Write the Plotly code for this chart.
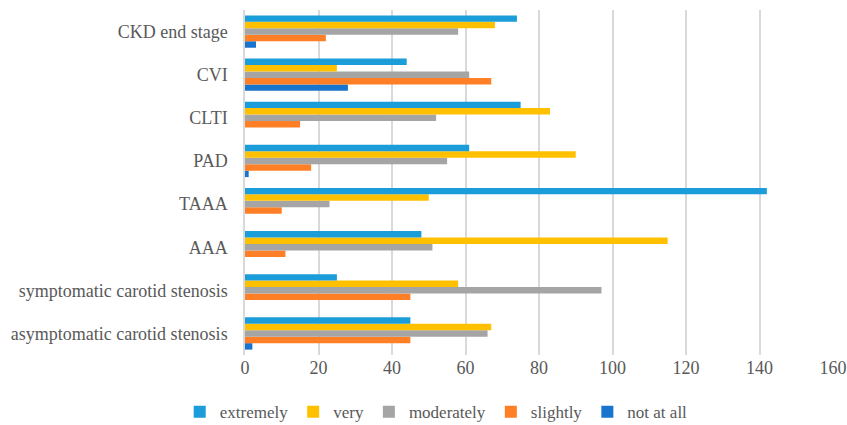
import plotly.graph_objects as go

categories = ["asymptomatic carotid stenosis", "symptomatic carotid stenosis", "AAA", "TAAA",
              "PAD", "CLTI", "CVI", "CKD end stage"]
extremely = [45, 25, 48, 142, 61, 75, 44, 74]
very = [67, 58, 115, 50, 90, 83, 25, 68]
moderately = [66, 97, 51, 23, 55, 52, 61, 58]
slightly = [45, 45, 11, 10, 18, 15, 67, 22]
not_at_all = [2, 0, 0, 0, 1, 0, 28, 3]
x_ticks = [0, 20, 40, 60, 80, 100, 120, 140, 160]

series = [
    ("not at all", not_at_all, "#1874CD", 5),
    ("slightly", slightly, "#FF7F27", 4),
    ("moderately", moderately, "#A5A5A5", 3),
    ("very", very, "#FFC000", 2),
    ("extremely", extremely, "#1B9DD9", 1),
]

FONT = "Liberation Serif, Times New Roman, serif"

fig = go.Figure()
for name, vals, color, rank in series:
    fig.add_trace(go.Bar(y=categories, x=vals, name=name, orientation="h",
                         marker=dict(color=color, line=dict(width=0)),
                         legendrank=rank))

fig.update_layout(
    width=847, height=425,
    margin=dict(l=245, r=14, t=10, b=70),
    barmode="group", bargap=0.25, bargroupgap=0.0,
    plot_bgcolor="white", paper_bgcolor="white",
    font=dict(family=FONT, size=18, color="#595959"),
    legend=dict(orientation="h", xref="container", yref="container",
                x=0.515, xanchor="center", y=0.03, yanchor="middle",
                font=dict(family=FONT, size=17, color="#595959"), itemwidth=30,
                traceorder="normal"),
    showlegend=True,
)
fig.update_xaxes(range=[0, 160], tickvals=x_ticks, showgrid=True, gridcolor="#D9D9D9",
                 gridwidth=1.5, zeroline=False, showline=False, ticks="",
                 ticklabeloverflow="allow", automargin=False,
                 tickfont=dict(family=FONT, size=18, color="#595959"))
fig.update_yaxes(showline=True, linecolor="#D9D9D9", linewidth=1.5, showgrid=False,
                 ticks="", ticklabelstandoff=12, automargin=False,
                 tickfont=dict(family=FONT, size=18, color="#595959"))

fig.write_html("out.html")
